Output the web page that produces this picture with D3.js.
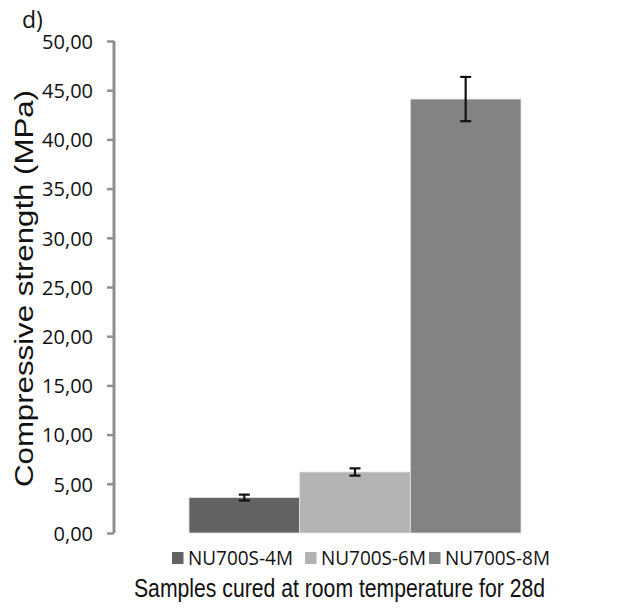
<!DOCTYPE html>
<html>
<head>
<meta charset="utf-8">
<script src="https://cdn.jsdelivr.net/npm/d3@7/dist/d3.min.js"></script>
<style>
  html, body { margin: 0; padding: 0; background: #ffffff; }
  svg { display: block; }
</style>
</head>
<body>
<div id="chart"></div>
<script>
// Compressive strength of NU700S mixes, cured 28 days at room temperature
const series = ["NU700S-4M", "NU700S-6M", "NU700S-8M"];
const strength = [3.6, 6.2, 44.1];     // MPa
const stdDev = [0.3, 0.37, 2.25];      // MPa
const yTicks = [0, 5, 10, 15, 20, 25, 30, 35, 40, 45, 50];
const colors = ["#636363", "#b3b3b3", "#838383"];

const W = 633, H = 609;
const svg = d3.select("#chart").append("svg")
  .attr("width", W).attr("height", H);

const y = d3.scaleLinear().domain([0, 50]).range([533, 41]);
const x = d3.scaleBand().domain(series).range([189, 521]).padding(0);

const fmt = v => d3.format(".2f")(v).replace(".", ",");

// bars
svg.append("g").selectAll("rect")
  .data(series)
  .join("rect")
  .attr("x", d => x(d))
  .attr("width", x.bandwidth())
  .attr("y", (d, i) => y(strength[i]))
  .attr("height", (d, i) => y(0) - y(strength[i]))
  .attr("fill", (d, i) => colors[i])
  .attr("stroke", "#e4e4e4")
  .attr("stroke-width", 0.8);

// error bars
const err = svg.append("g").attr("stroke", "#111").attr("stroke-width", 2.2);
series.forEach((s, i) => {
  const cx = x(s) + x.bandwidth() / 2;
  const hi = y(strength[i] + stdDev[i]);
  const lo = y(strength[i] - stdDev[i]);
  err.append("line").attr("x1", cx).attr("x2", cx).attr("y1", hi).attr("y2", lo);
  err.append("line").attr("x1", cx - 5.5).attr("x2", cx + 5.5).attr("y1", hi).attr("y2", hi);
  err.append("line").attr("x1", cx - 5.5).attr("x2", cx + 5.5).attr("y1", lo).attr("y2", lo);
});

// y axis
const yAxis = d3.axisLeft(y).tickValues(yTicks).tickFormat(fmt).tickSize(7).tickPadding(14);
const ga = svg.append("g").attr("transform", "translate(114,0)").call(yAxis);
ga.select(".domain").attr("stroke", "#8f8f8f").attr("stroke-width", 3)
  .attr("d", `M0,${y(0)}V${y(50)}`);
ga.selectAll(".tick line").attr("stroke", "#8f8f8f").attr("stroke-width", 2.5);
ga.selectAll(".tick text")
  .attr("font-family", "'Open Sans', sans-serif")
  .attr("font-size", 20)
  .attr("fill", "#111")
  .attr("dy", "0.36em");

// panel label
svg.append("text")
  .attr("x", 22).attr("y", 28)
  .attr("font-family", "'Open Sans', sans-serif")
  .attr("font-size", 23).attr("fill", "#111")
  .text("d)");

// y title
svg.append("text")
  .attr("transform", "translate(33,288.5) scale(0.82,1) rotate(-90)")
  .attr("text-anchor", "middle")
  .attr("font-family", "'Liberation Sans', Arial, sans-serif")
  .attr("font-size", 31).attr("fill", "#111")
  .attr("textLength", 397).attr("lengthAdjust", "spacingAndGlyphs")
  .text("Compressive strength (MPa)");

// legend
const legendX = [172, 305, 429];
const lg = svg.append("g");
series.forEach((s, i) => {
  lg.append("rect")
    .attr("x", legendX[i]).attr("y", 552).attr("width", 11.5).attr("height", 12)
    .attr("fill", colors[i]);
  lg.append("text")
    .attr("x", legendX[i] + 16).attr("y", 565)
    .attr("font-family", "'Open Sans', sans-serif")
    .attr("font-size", 19.5).attr("fill", "#111")
    .attr("textLength", 105).attr("lengthAdjust", "spacingAndGlyphs")
    .text(s);
});

// x title, horizontally condensed
svg.append("text")
  .attr("transform", "translate(339.5,597) scale(0.8,1)")
  .attr("text-anchor", "middle")
  .attr("font-family", "'Liberation Sans', Arial, sans-serif")
  .attr("font-size", 26.5).attr("fill", "#111")
  .text("Samples cured at room temperature for 28d");
</script>
</body>
</html>
